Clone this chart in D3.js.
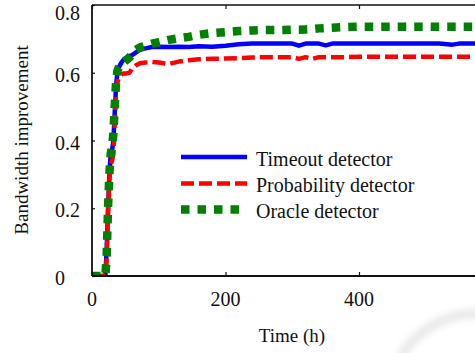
<!DOCTYPE html>
<html>
<head>
<meta charset="utf-8">
<script src="https://cdn.jsdelivr.net/npm/d3@7"></script>
<style>
  html, body { margin: 0; padding: 0; background: #ffffff; }
  svg { display: block; }
  text { font-family: "Liberation Serif", "Times New Roman", serif; fill: #111; }
</style>
</head>
<body>
<svg id="chart" width="475" height="353"></svg>
<script>
// ---- data ----
const times = [0, 10, 20, 22, 24, 26, 28, 30, 32, 34, 36, 38, 40, 44, 48, 52, 56, 60, 66, 72, 80, 90, 100, 115, 130, 145, 160, 180, 200, 220, 240, 260, 280, 300, 310, 320, 330, 340, 350, 360, 380, 400, 420, 440, 460, 480, 500, 520, 540, 550, 560, 580, 600];
const timeout = [0, 0, 0, 0.08, 0.2, 0.3, 0.36, 0.37, 0.40, 0.48, 0.56, 0.60, 0.615, 0.63, 0.64, 0.645, 0.65, 0.652, 0.66, 0.668, 0.672, 0.676, 0.677, 0.676, 0.677, 0.676, 0.678, 0.677, 0.680, 0.684, 0.686, 0.686, 0.686, 0.686, 0.680, 0.686, 0.686, 0.686, 0.681, 0.686, 0.686, 0.686, 0.686, 0.686, 0.686, 0.686, 0.686, 0.686, 0.683, 0.686, 0.686, 0.686, 0.686];
const probability = [0, 0, 0, 0.05, 0.18, 0.28, 0.33, 0.34, 0.36, 0.45, 0.54, 0.57, 0.585, 0.595, 0.598, 0.598, 0.600, 0.612, 0.622, 0.628, 0.630, 0.632, 0.630, 0.626, 0.633, 0.637, 0.640, 0.641, 0.642, 0.643, 0.645, 0.646, 0.646, 0.646, 0.641, 0.646, 0.641, 0.646, 0.646, 0.646, 0.646, 0.647, 0.647, 0.647, 0.647, 0.647, 0.647, 0.647, 0.647, 0.647, 0.647, 0.647, 0.647];
const oracle = [0, 0, 0, 0.06, 0.2, 0.30, 0.36, 0.38, 0.42, 0.50, 0.57, 0.605, 0.615, 0.625, 0.632, 0.638, 0.645, 0.655, 0.668, 0.675, 0.680, 0.686, 0.690, 0.697, 0.702, 0.706, 0.712, 0.717, 0.720, 0.723, 0.725, 0.726, 0.726, 0.727, 0.727, 0.728, 0.729, 0.731, 0.732, 0.733, 0.735, 0.736, 0.736, 0.736, 0.736, 0.736, 0.736, 0.736, 0.736, 0.736, 0.736, 0.736, 0.736];
const seriesNames = ["Timeout detector", "Probability detector", "Oracle detector"];
const xTicks = [0, 200, 400, 600];
const xTickLabels = ["0", "200", "400", ""];
const yTicks = [0, 0.2, 0.4, 0.6, 0.8];
const yTickLabels = ["0", "0.2", "0.4", "0.6", "0.8"];
const xLabel = "Time (h)";
const yLabel = "Bandwidth improvement";

// ---- layout ----
const svg = d3.select("#chart");
const mLeft = 92, mTop = 5, mBottom = 276, mRight = 492.5;
const x = d3.scaleLinear().domain([0, 600]).range([mLeft, mRight]);
const y = d3.scaleLinear().domain([0, 0.8]).range([mBottom, mTop]);

// faint shadow at bottom right
const defs = svg.append("defs");
defs.append("filter").attr("id", "blur").attr("x", "-20%").attr("y", "-50%").attr("width", "140%").attr("height", "200%")
  .append("feGaussianBlur").attr("stdDeviation", 3.5);
defs.append("clipPath").attr("id", "plotclip").append("rect")
  .attr("x", mLeft).attr("y", mTop - 6).attr("width", mRight - mLeft).attr("height", mBottom - mTop + 6);
svg.append("path")
  .attr("d", "M400,358 Q420,324 460,315 Q475,312 490,316")
  .attr("fill", "none").attr("stroke", "#dcdcdc").attr("stroke-width", 9)
  .attr("filter", "url(#blur)").attr("opacity", 0.65);

// series
const series = [
  { name: seriesNames[0], values: timeout, color: "#0000ff", width: 4.5, dash: null },
  { name: seriesNames[1], values: probability, color: "#ff0000", width: 4.5, dash: "13,5" },
  { name: seriesNames[2], values: oracle, color: "#008000", width: 8.5, dash: "8.5,8" }
];
const line = d3.line().x((d, i) => x(times[i])).y(d => y(d));
const g = svg.append("g").attr("clip-path", "url(#plotclip)");
series.forEach(s => {
  g.append("path")
    .attr("d", line(s.values))
    .attr("fill", "none")
    .attr("stroke", s.color)
    .attr("stroke-width", s.width)
    .attr("stroke-dasharray", s.dash)
    .attr("stroke-linejoin", "round");
});

// frame
const frame = svg.append("g").attr("stroke", "#111").attr("fill", "none");
frame.append("line").attr("x1", mLeft).attr("x2", mLeft).attr("y1", mTop).attr("y2", mBottom).attr("stroke-width", 1.8);
frame.append("line").attr("x1", mLeft).attr("x2", mRight).attr("y1", mTop).attr("y2", mTop).attr("stroke-width", 1.6);
frame.append("line").attr("x1", mLeft).attr("x2", mRight).attr("y1", mBottom).attr("y2", mBottom).attr("stroke-width", 1.8);

// axes with inward ticks
const xAxisB = d3.axisBottom(x).tickValues(xTicks).tickSize(-4).tickFormat("");
const xAxisT = d3.axisTop(x).tickValues(xTicks).tickSize(-4).tickFormat("");
const yAxisL = d3.axisLeft(y).tickValues(yTicks).tickSize(-3).tickFormat("");
[svg.append("g").attr("transform", `translate(0,${mBottom})`).call(xAxisB),
 svg.append("g").attr("transform", `translate(0,${mTop})`).call(xAxisT),
 svg.append("g").attr("transform", `translate(${mLeft},0)`).call(yAxisL)].forEach(a => {
  a.select(".domain").remove();
  a.selectAll(".tick line").attr("stroke", "#111").attr("stroke-width", 1.2);
});

// tick labels
svg.append("g").selectAll("text").data(xTicks).join("text")
  .attr("x", d => x(d)).attr("y", 306)
  .attr("text-anchor", "middle").attr("font-size", 20)
  .text((d, i) => xTickLabels[i]);
svg.append("g").selectAll("text").data(yTicks).join("text")
  .attr("x", 55).attr("y", d => Math.max(y(d) + 9, 20))
  .attr("text-anchor", "start").attr("font-size", 20)
  .text((d, i) => yTickLabels[i]);

// axis titles
svg.append("text").attr("x", 292).attr("y", 342).attr("text-anchor", "middle")
  .attr("font-size", 19).text(xLabel);
svg.append("text").attr("transform", "translate(28,140) rotate(-90)").attr("text-anchor", "middle")
  .attr("font-size", 19).text(yLabel);

// legend
const legY = [157, 183.5, 209.5];
const leg = svg.append("g");
series.forEach((s, i) => {
  leg.append("line").attr("x1", 181).attr("x2", 247).attr("y1", legY[i]).attr("y2", legY[i])
    .attr("stroke", s.color).attr("stroke-width", s.width).attr("stroke-dasharray", s.dash);
  leg.append("text").attr("x", 256).attr("y", legY[i] + 8.5).attr("font-size", 20).text(s.name);
});
</script>
</body>
</html>
